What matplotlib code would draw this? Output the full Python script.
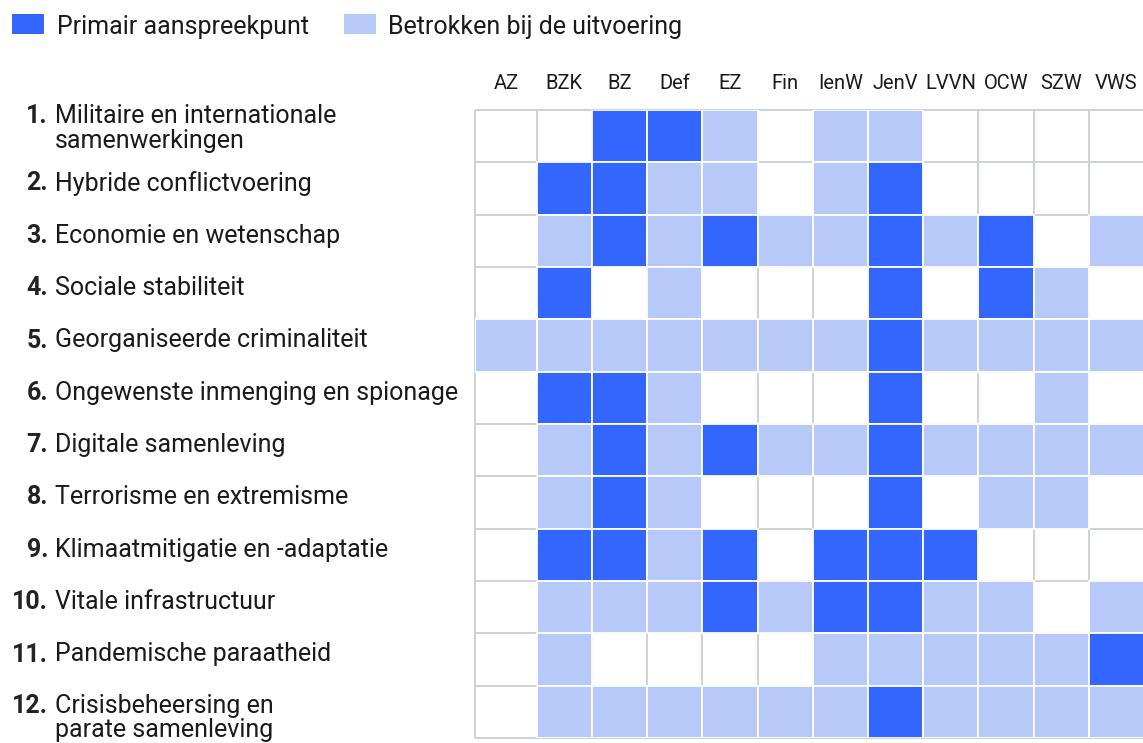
import numpy as np
import matplotlib
matplotlib.use("Agg")
import matplotlib.pyplot as plt
from matplotlib.patches import Rectangle
import matplotlib.transforms as mtrans

# ---------------- data ----------------
departments = ["AZ", "BZK", "BZ", "Def", "EZ", "Fin", "IenW", "JenV", "LVVN", "OCW", "SZW", "VWS"]
row_numbers = ["1.", "2.", "3.", "4.", "5.", "6.", "7.", "8.", "9.", "10.", "11.", "12."]
themes = [
    "Militaire en internationale\nsamenwerkingen",
    "Hybride conflictvoering",
    "Economie en wetenschap",
    "Sociale stabiliteit",
    "Georganiseerde criminaliteit",
    "Ongewenste inmenging en spionage",
    "Digitale samenleving",
    "Terrorisme en extremisme",
    "Klimaatmitigatie en -adaptatie",
    "Vitale infrastructuur",
    "Pandemische paraatheid",
    "Crisisbeheersing en\nparate samenleving",
]
legend_labels = ["Primair aanspreekpunt", "Betrokken bij de uitvoering"]
# 2 = primair aanspreekpunt, 1 = betrokken, 0 = geen rol
roles = [
    [0, 0, 2, 2, 1, 0, 1, 1, 0, 0, 0, 0],
    [0, 2, 2, 1, 1, 0, 1, 2, 0, 0, 0, 0],
    [0, 1, 2, 1, 2, 1, 1, 2, 1, 2, 0, 1],
    [0, 2, 0, 1, 0, 0, 0, 2, 0, 2, 1, 0],
    [1, 1, 1, 1, 1, 1, 1, 2, 1, 1, 1, 1],
    [0, 2, 2, 1, 0, 0, 0, 2, 0, 0, 1, 0],
    [0, 1, 2, 1, 2, 1, 1, 2, 1, 1, 1, 1],
    [0, 1, 2, 1, 0, 0, 0, 2, 0, 1, 1, 0],
    [0, 2, 2, 1, 2, 0, 2, 2, 2, 0, 0, 0],
    [0, 1, 1, 1, 2, 1, 2, 2, 1, 1, 0, 1],
    [0, 1, 0, 0, 0, 0, 1, 1, 1, 1, 1, 2],
    [0, 1, 1, 1, 1, 1, 1, 2, 1, 1, 1, 1],
]

# ---------------- style ----------------
PRIMARY = "#3366ff"
LIGHT = "#b6c9f8"
GRID = "#cdd3d3"
TEXT = "#1a1a1a"
plt.rcParams["font.family"] = ["Roboto", "DejaVu Sans"]

W, H = 1143, 743
fig = plt.figure(figsize=(W / 100, H / 100), dpi=100)
fig.patch.set_facecolor("white")

# grid area in pixels
gx0, gy_top, gy_bot = 475, 110, 738
col_w = 55.2
first_extra = 0.12  # AZ column slightly wider
ncol, nrow = len(departments), len(themes)
ax = fig.add_axes([gx0 / W, (H - gy_bot) / H, (ncol + first_extra) * col_w / W, (gy_bot - gy_top) / H])
ax.set_xlim(-first_extra, ncol)
ax.set_ylim(nrow, 0)
ax.axis("off")

xedges = np.concatenate([[-first_extra], np.arange(1, ncol + 1)])
yedges = np.arange(0, nrow + 1)

# gray grid lines
for xe in xedges:
    ax.plot([xe, xe], [0, nrow], color=GRID, lw=1.4, solid_capstyle="butt", zorder=1, clip_on=False)
for ye in yedges:
    ax.plot([-first_extra, ncol], [ye, ye], color=GRID, lw=1.4, solid_capstyle="butt", zorder=1, clip_on=False)

# coloured cells
arr = np.array(roles)
colors = {1: LIGHT, 2: PRIMARY}
for r in range(nrow):
    for c in range(ncol):
        v = arr[r, c]
        if v == 0:
            continue
        ax.bar(xedges[c], 1, width=xedges[c + 1] - xedges[c], bottom=r, align="edge",
               color=colors[v], edgecolor="white", linewidth=1.3, zorder=2)

def fx(px):
    return px / W

def fy(py):
    return 1 - py / H

# column headers
xcenters = (xedges[:-1] + xedges[1:]) / 2
hdr_tr = mtrans.blended_transform_factory(ax.transData, fig.transFigure)
for xc, name in zip(xcenters, departments):
    ax.text(xc, fy(89), name, transform=hdr_tr, ha="center", va="baseline",
            fontsize=14.5, color=TEXT, clip_on=False)

# row labels
row_h = (gy_bot - gy_top) / nrow
line_gap = 24.5
for i, (num, label) in enumerate(zip(row_numbers, themes)):
    center = gy_top + (i + 0.5) * row_h
    base = center + 2 if i != 0 else center - 13
    if i == nrow - 1:
        base = center + 1
    fig.text(fx(48), fy(base), num, ha="right", va="baseline", fontsize=18,
             fontweight="bold", color="#222222")
    for k, line in enumerate(label.split("\n")):
        fig.text(fx(55), fy(base + k * line_gap), line, ha="left", va="baseline",
                 fontsize=18, color=TEXT)

# legend
leg_items = [(12, 57, PRIMARY), (344, 388, LIGHT)]
for (sx, tx, col), lab in zip(leg_items, legend_labels):
    fig.patches.append(Rectangle((fx(sx), fy(34)), 32 / W, 20 / H, transform=fig.transFigure,
                                 facecolor=col, edgecolor="none"))
    fig.text(fx(tx), fy(34), lab, ha="left", va="baseline", fontsize=18, color=TEXT)

fig.savefig("out.png", dpi=100, facecolor="white")
